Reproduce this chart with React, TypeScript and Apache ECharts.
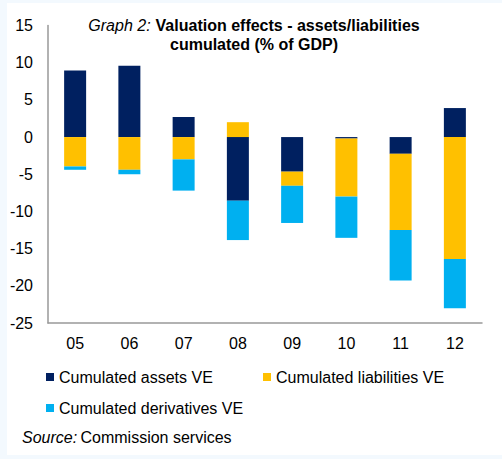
import React, { useEffect, useRef } from "react";
import * as echarts from "echarts";

const categories = ["05", "06", "07", "08", "09", "10", "11", "12"];
const assetsVE = [8.95, 9.6, 2.7, -8.55, -4.65, -0.2, -2.25, 3.9];
const liabilitiesVE = [-3.95, -4.4, -3.0, 2.0, -1.9, -7.8, -10.25, -16.4];
const derivativesVE = [-0.45, -0.6, -4.2, -5.3, -5.0, -5.55, -6.8, -6.6];
const seriesNames = ["Cumulated assets VE", "Cumulated liabilities VE", "Cumulated derivatives VE"];
const colors = ["#002060", "#FFC000", "#00B0F0"];

const FONT = "'Liberation Sans', Arial, sans-serif";

export default function App() {
  const ref = useRef<HTMLDivElement>(null);
  useEffect(() => {
    if (!ref.current) return;
    const chart = echarts.init(ref.current, undefined, { renderer: "svg" });
    const legendItem = (name: string, left: number, top: number) => ({
      data: [name],
      left,
      top,
      icon: "rect",
      itemWidth: 8,
      itemHeight: 8,
      itemGap: 0,
      padding: 0,
      textStyle: { fontFamily: FONT, fontSize: 16, color: "#000" },
    });
    chart.setOption({
      animation: false,
      backgroundColor: "#F3F9FE",
      textStyle: { fontFamily: FONT },
      title: {
        text: "{i|Graph 2:} {b|Valuation effects - assets/liabilities}\n{b|cumulated (% of GDP)}",
        left: 254,
        top: 16,
        textAlign: "center",
        padding: 0,
        textStyle: {
          fontFamily: FONT,
          fontWeight: "normal",
          rich: {
            i: { fontFamily: FONT, fontStyle: "italic", fontWeight: "normal", fontSize: 16, color: "#000", lineHeight: 19 },
            b: { fontFamily: FONT, fontWeight: "bold", fontSize: 16, color: "#000", lineHeight: 19 },
          },
        },
      },
      legend: [
        legendItem(seriesNames[0], 46, 369),
        legendItem(seriesNames[1], 263, 369),
        legendItem(seriesNames[2], 46, 400),
      ],
      graphic: [
        {
          type: "rect",
          z: -100,
          shape: { x: 7, y: 3, width: 495, height: 452 },
          style: { fill: "#ffffff" },
          silent: true,
        },
        {
          type: "text",
          left: 22,
          top: 429,
          style: {
            text: "{i|Source:} {n|Commission services}",
            rich: {
              i: { fontFamily: FONT, fontStyle: "italic", fontSize: 16, fill: "#000" },
              n: { fontFamily: FONT, fontSize: 16, fill: "#000" },
            },
          },
        },
      ],
      grid: { left: 48, right: 20, top: 25.5, bottom: 136, containLabel: false },
      xAxis: [
        {
          type: "category",
          data: categories,
          position: "bottom",
          axisLine: { show: false },
          axisTick: { show: false },
          axisLabel: { fontFamily: FONT, fontSize: 16, color: "#000", margin: 12 },
        },
        {
          type: "category",
          data: categories,
          position: "bottom",
          axisLine: { show: true, onZero: true, lineStyle: { color: "#999", width: 1.5 } },
          axisTick: { show: false },
          axisLabel: { show: false },
        },
      ],
      yAxis: {
        type: "value",
        min: -25,
        max: 15,
        interval: 5,
        axisLine: { show: true, lineStyle: { color: "#999", width: 1.5 } },
        axisTick: { show: false },
        splitLine: { show: false },
        axisLabel: { fontFamily: FONT, fontSize: 16, color: "#000", margin: 15 },
      },
      series: [assetsVE, liabilitiesVE, derivativesVE].map((d, i) => ({
        name: seriesNames[i],
        type: "bar",
        stack: "total",
        data: d,
        barWidth: 22,
        itemStyle: { color: colors[i] },
        xAxisIndex: 0,
      })),
    });
    return () => chart.dispose();
  }, []);
  return (
    <div
      ref={ref}
      style={{ position: "fixed", left: 0, top: 0, width: 502, height: 459 }}
    />
  );
}
